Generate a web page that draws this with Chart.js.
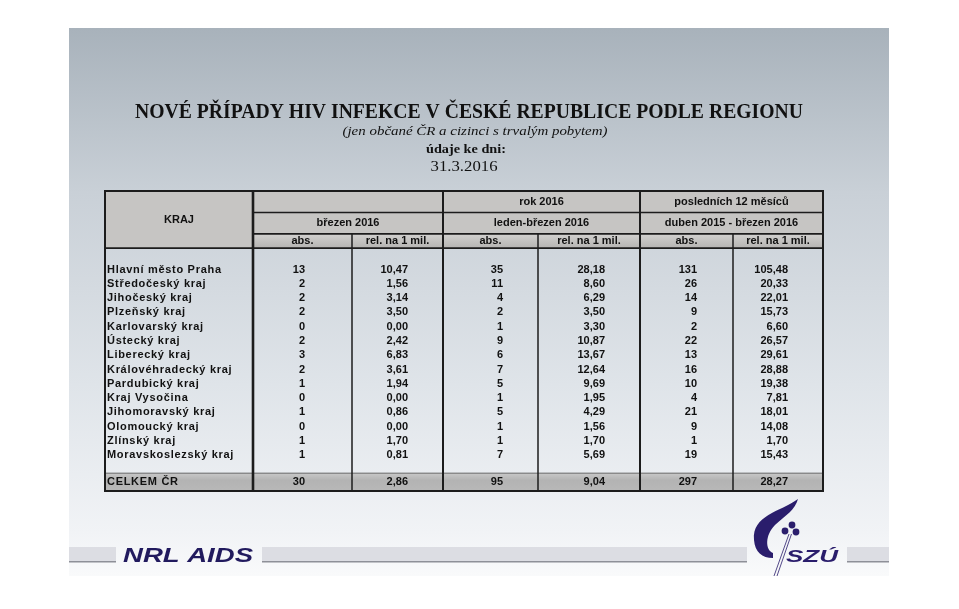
<!DOCTYPE html>
<html>
<head>
<meta charset="utf-8">
<script src="https://cdn.jsdelivr.net/npm/chart.js@4/dist/chart.umd.min.js"></script>
<style>
  html, body { margin: 0; padding: 0; background: #fff; }
  #wrap { width: 959px; height: 609px; }
</style>
</head>
<body>
<div id="wrap"><canvas id="table" width="959" height="609"></canvas></div>
<script>
// --- data ---
const regions = ['Hlavní město Praha', 'Středočeský kraj', 'Jihočeský kraj', 'Plzeňský kraj',
  'Karlovarský kraj', 'Ústecký kraj', 'Liberecký kraj', 'Královéhradecký kraj', 'Pardubický kraj',
  'Kraj Vysočina', 'Jihomoravský kraj', 'Olomoucký kraj', 'Zlínský kraj', 'Moravskoslezský kraj'];
const marAbs = [13, 2, 2, 2, 0, 2, 3, 2, 1, 0, 1, 0, 1, 1];
const marRel = [10.47, 1.56, 3.14, 3.50, 0.00, 2.42, 6.83, 3.61, 1.94, 0.00, 0.86, 0.00, 1.70, 0.81];
const ytdAbs = [35, 11, 4, 2, 1, 9, 6, 7, 5, 1, 5, 1, 1, 7];
const ytdRel = [28.18, 8.60, 6.29, 3.50, 3.30, 10.87, 13.67, 12.64, 9.69, 1.95, 4.29, 1.56, 1.70, 5.69];
const l12Abs = [131, 26, 14, 9, 2, 22, 13, 16, 10, 4, 21, 9, 1, 19];
const l12Rel = [105.48, 20.33, 22.01, 15.73, 6.60, 26.57, 29.61, 28.88, 19.38, 7.81, 18.01, 14.08, 1.70, 15.43];
const totalLabel = 'CELKEM ČR';
const totals = [30, 2.86, 95, 9.04, 297, 28.27];
const groupLabels = ['', 'rok 2016', 'posledních 12 měsíců'];
const periodLabels = ['březen 2016', 'leden-březen 2016', 'duben 2015 - březen 2016'];
const measureLabels = ['abs.', 'rel. na 1 mil.'];
const firstHeader = 'KRAJ';

// --- layout (scale units) ---
const colEdges = [0, 148, 247, 338, 433, 535, 628, 718];
const numRight = [200, 303, 398, 500, 592, 683];
const ROW0 = 5.5, TOTAL_ROW = 20.4, TOTAL_TOP = 19.75, Y_MAX = 21;
const SANS = '"Liberation Sans", Arial, sans-serif';
const SERIF = '"Liberation Serif", "Times New Roman", serif';

const columns = [marAbs, marRel, ytdAbs, ytdRel, l12Abs, l12Rel];
const fmt = (v, k) => k % 2 ? v.toFixed(2).replace('.', ',') : String(v);

const datasets = columns.map((vals, k) => ({
  label: 'c' + k,
  data: vals.map((v, i) => ({ x: numRight[k], y: ROW0 + i, v }))
    .concat([{ x: numRight[k], y: TOTAL_ROW, v: totals[k] }]),
  pointRadius: 0,
  showLine: false
}));

function fillFit(ctx, text, x, y, w, align) {
  const m = ctx.measureText(text).width;
  ctx.save();
  ctx.translate(x, y);
  ctx.scale(w / m, 1);
  ctx.textAlign = align || 'center';
  ctx.fillText(text, 0, 0);
  ctx.restore();
}

const pagePlugin = {
  id: 'page',
  beforeDraw(chart) {
    const ctx = chart.ctx;
    ctx.save();
    ctx.fillStyle = '#fff';
    ctx.fillRect(0, 0, 959, 609);
    // slide background
    const g = ctx.createLinearGradient(0, 28, 0, 576);
    g.addColorStop(0, '#a8b2bb');
    g.addColorStop(0.3, '#c9d0d7');
    g.addColorStop(0.65, '#dfe4e9');
    g.addColorStop(0.92, '#f1f3f6');
    g.addColorStop(1, '#f9fafb');
    ctx.fillStyle = g;
    ctx.fillRect(69, 28, 820, 548);

    // titles
    ctx.fillStyle = '#111';
    ctx.textBaseline = 'alphabetic';
    ctx.font = 'bold 20px ' + SERIF;
    fillFit(ctx, 'NOVÉ PŘÍPADY HIV INFEKCE V ČESKÉ REPUBLICE PODLE REGIONU', 469, 118, 668);
    ctx.font = 'italic 13px ' + SERIF;
    fillFit(ctx, '(jen občané ČR a cizinci s trvalým pobytem)', 475, 135, 265);
    ctx.font = 'bold 13px ' + SERIF;
    fillFit(ctx, 'údaje ke dni:', 466, 153, 80);
    ctx.font = '14px ' + SERIF;
    fillFit(ctx, '31.3.2016', 464, 171, 67);

    // footer bars
    [[69, 47], [262, 485], [847, 42]].forEach(([x, w]) => {
      ctx.fillStyle = '#dcdde3';
      ctx.fillRect(x, 547, w, 15);
      ctx.fillStyle = '#8e9098';
      ctx.fillRect(x, 561, w, 1.5);
    });
    ctx.fillStyle = '#211a5e';
    ctx.font = 'italic bold 20px ' + SANS;
    fillFit(ctx, 'NRL AIDS', 123, 562, 130, 'left');

    // logo
    ctx.fillStyle = '#2a1d6c';
    ctx.beginPath();
    ctx.moveTo(798, 499);
    ctx.bezierCurveTo(780, 512, 752, 515, 754, 540);
    ctx.bezierCurveTo(755, 552, 762, 558, 773, 558);
    ctx.lineTo(773, 553);
    ctx.bezierCurveTo(765, 550, 765, 535, 775, 525);
    ctx.bezierCurveTo(786, 515, 795, 510, 798, 499);
    ctx.fill();
    [[792, 525], [785, 531], [796, 532]].forEach(([cx, cy]) => {
      ctx.beginPath(); ctx.arc(cx, cy, 3.4, 0, Math.PI * 2); ctx.fill();
    });
    ctx.strokeStyle = '#2a1d6c';
    ctx.lineWidth = 0.8;
    ctx.beginPath();
    ctx.moveTo(789, 534); ctx.lineTo(774, 576);
    ctx.moveTo(791.5, 534); ctx.lineTo(777, 576);
    ctx.stroke();
    ctx.font = 'italic bold 17px ' + SANS;
    fillFit(ctx, 'SZÚ', 786, 562, 52, 'left');
    ctx.restore();
  },
  beforeDatasetsDraw(chart) {
    const ctx = chart.ctx, xs = chart.scales.x, ys = chart.scales.y;
    const X = v => xs.getPixelForValue(v), Y = v => ys.getPixelForValue(v);
    const L = X(0), R = X(colEdges[7]), T = Y(0), B = Y(Y_MAX);
    ctx.save();
    // header fills
    ctx.fillStyle = '#c6c5c3';
    ctx.fillRect(L, T, R - L, Y(4) - T);
    const hg = ctx.createLinearGradient(0, Y(3), 0, Y(4));
    hg.addColorStop(0, '#d2d1cf');
    hg.addColorStop(1, '#b5b4b2');
    ctx.fillStyle = hg;
    ctx.fillRect(X(colEdges[1]), Y(3), R - X(colEdges[1]), Y(4) - Y(3));
    // total band
    const tg = ctx.createLinearGradient(0, Y(TOTAL_TOP), 0, B);
    tg.addColorStop(0, '#c8c8c8');
    tg.addColorStop(0.4, '#b3b3b3');
    tg.addColorStop(1, '#b8b8b8');
    ctx.fillStyle = tg;
    ctx.fillRect(L, Y(TOTAL_TOP), R - L, B - Y(TOTAL_TOP));

    ctx.strokeStyle = '#1c1c1c';
    const line = (x1, y1, x2, y2, w) => {
      ctx.lineWidth = w; ctx.beginPath(); ctx.moveTo(x1, y1); ctx.lineTo(x2, y2); ctx.stroke();
    };
    // horizontal header lines
    line(X(colEdges[1]), Y(1.5), R, Y(1.5), 1.6);
    line(X(colEdges[1]), Y(3), R, Y(3), 1.6);
    line(L, Y(4), R, Y(4), 1.6);
    line(L, Y(TOTAL_TOP), R, Y(TOTAL_TOP), 0.6);
    // vertical dividers
    [1, 3, 5].forEach(c => line(X(colEdges[c]), T, X(colEdges[c]), B, c === 1 ? 2.6 : 2));
    [2, 4, 6].forEach(c => line(X(colEdges[c]), Y(3), X(colEdges[c]), B, 1.5));
    // outer border
    ctx.lineWidth = 2;
    ctx.strokeRect(L, T, R - L, B - T);

    // header text
    ctx.fillStyle = '#111';
    ctx.font = 'bold 11px ' + SANS;
    ctx.textAlign = 'center';
    ctx.textBaseline = 'middle';
    ctx.fillText(firstHeader, (L + X(colEdges[1])) / 2, Y(2));
    for (let g = 0; g < 3; g++) {
      const a = X(colEdges[1 + 2 * g]), b = X(colEdges[3 + 2 * g]);
      ctx.fillText(groupLabels[g], (a + b) / 2, Y(0.75));
      ctx.fillText(periodLabels[g], (a + b) / 2, Y(2.25));
      for (let m = 0; m < 2; m++) {
        const c1 = X(colEdges[1 + 2 * g + m]), c2 = X(colEdges[2 + 2 * g + m]);
        ctx.fillText(measureLabels[m], (c1 + c2) / 2, Y(3.5));
      }
    }
    // region names (a little letter-spaced, like the original)
    ctx.textAlign = 'left';
    ctx.letterSpacing = '0.7px';
    regions.forEach((r, i) => ctx.fillText(r, L + 2, Y(ROW0 + i)));
    ctx.fillText(totalLabel, L + 2, Y(TOTAL_ROW));
    ctx.restore();
  },
  afterDatasetsDraw(chart) {
    const ctx = chart.ctx;
    ctx.save();
    ctx.fillStyle = '#111';
    ctx.font = 'bold 11px ' + SANS;
    ctx.textAlign = 'right';
    ctx.textBaseline = 'middle';
    chart.data.datasets.forEach((ds, k) => {
      chart.getDatasetMeta(k).data.forEach((el, i) => {
        ctx.fillText(fmt(ds.data[i].v, k), el.x, el.y);
      });
    });
    ctx.restore();
  }
};

new Chart(document.getElementById('table'), {
  type: 'scatter',
  data: { datasets },
  options: {
    responsive: false,
    animation: false,
    layout: { padding: { left: 105, right: 136, top: 191, bottom: 118 } },
    scales: {
      x: { type: 'linear', display: false, min: colEdges[0], max: colEdges[7] },
      y: { type: 'linear', display: false, min: 0, max: Y_MAX, reverse: true }
    },
    plugins: { legend: { display: false }, tooltip: { enabled: false } }
  },
  plugins: [pagePlugin]
});
</script>
</body>
</html>
